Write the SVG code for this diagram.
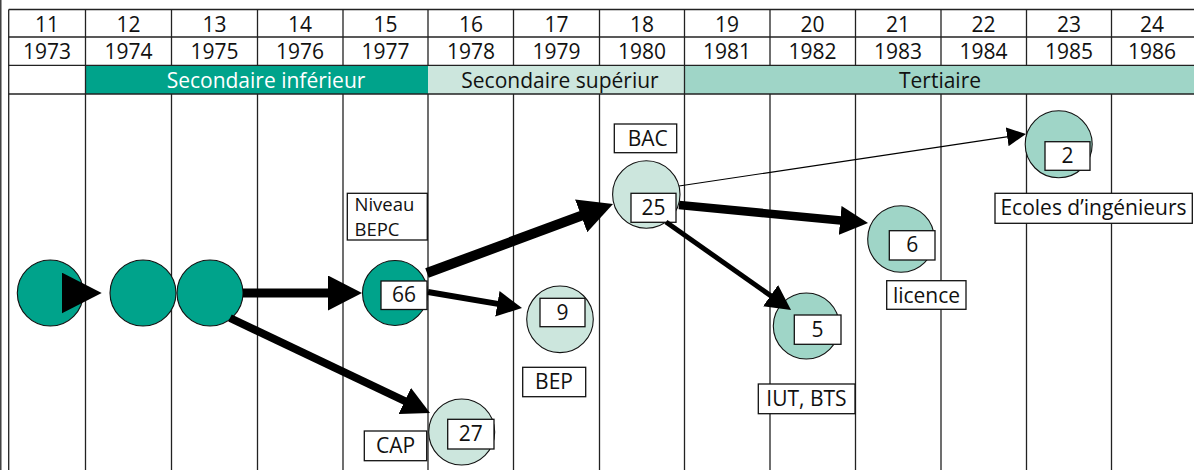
<svg xmlns="http://www.w3.org/2000/svg" width="1194" height="470" viewBox="0 0 1194 470">
<style>
text{font-family:"Open Sans","Noto Sans","Liberation Sans",sans-serif;font-size:21px;fill:#111;}
.c{text-anchor:middle;}
.grid{stroke:#222;stroke-width:1.3;fill:none;}
.box{fill:#fff;stroke:#111;stroke-width:1.3;}
.dk{fill:#00A38B;stroke:#111;stroke-width:1.1;}
.lt{fill:#CCE6DD;stroke:#111;stroke-width:1.1;}
.md{fill:#9FD5C7;stroke:#111;stroke-width:1.1;}
.arr{stroke:#000;fill:none;}
</style>
<defs>
<marker id="mHuge" markerUnits="userSpaceOnUse" markerWidth="40" markerHeight="41" refX="20" refY="20.5" orient="auto"><path d="M0,0 L40,20.5 L0,41 z" fill="#000"/></marker>
<marker id="mBig" markerUnits="userSpaceOnUse" markerWidth="34" markerHeight="35" refX="17" refY="17.5" orient="auto"><path d="M0,0 L34,17.5 L0,35 z" fill="#000"/></marker>
<marker id="mMed" markerUnits="userSpaceOnUse" markerWidth="28" markerHeight="29" refX="14" refY="14.5" orient="auto"><path d="M0,0 L28,14.5 L0,29 z" fill="#000"/></marker>
<marker id="mSmall" markerUnits="userSpaceOnUse" markerWidth="25" markerHeight="26" refX="12.5" refY="13" orient="auto"><path d="M0,0 L25,13 L0,26 z" fill="#000"/></marker>
<marker id="mThin" markerUnits="userSpaceOnUse" markerWidth="19" markerHeight="19" refX="9.5" refY="9.5" orient="auto"><path d="M0,0 L19,9.5 L0,19 z" fill="#000"/></marker>
</defs>
<rect x="0" y="0" width="1194" height="470" fill="#fff"/>
<g id="grid">
<rect x="85.5" y="65.3" width="342.5" height="28.7" fill="#00A38B"/>
<rect x="428" y="65.3" width="256.5" height="28.7" fill="#CCE6DD"/>
<rect x="684.5" y="65.3" width="509.5" height="28.7" fill="#9FD5C7"/>
<line class="grid" x1="0.8" y1="0" x2="0.8" y2="470" stroke-width="1.6"/>
<line class="grid" x1="8.7" y1="9.5" x2="8.7" y2="470"/>
<line class="grid" x1="8.7" y1="9.5" x2="1194" y2="9.5"/>
<line class="grid" x1="8.7" y1="37" x2="1194" y2="37"/>
<line class="grid" x1="8.7" y1="65.3" x2="1194" y2="65.3"/>
<line class="grid" x1="8.7" y1="94" x2="1194" y2="94"/>
<line class="grid" x1="684.5" y1="65.3" x2="684.5" y2="94" stroke-width="0.8"/>
<path class="grid" d="M85.5,9.5V470 M171.5,9.5V65.3 M171.5,94V470 M257.5,9.5V65.3 M257.5,94V470 M343,9.5V65.3 M343,94V470 M428,9.5V65.3 M428,94V470 M513.5,9.5V65.3 M513.5,94V470 M599.5,9.5V65.3 M599.5,94V470 M684.5,9.5V65.3 M684.5,94V470 M770,9.5V65.3 M770,94V470 M855.5,9.5V65.3 M855.5,94V470 M941,9.5V65.3 M941,94V470 M1026.5,9.5V65.3 M1026.5,94V470 M1111.5,9.5V65.3 M1111.5,94V470"/>
</g>
<g id="header">
<text class="c" x="47" y="31.5">11</text>
<text class="c" x="128.5" y="31.5">12</text>
<text class="c" x="214.5" y="31.5">13</text>
<text class="c" x="300" y="31.5">14</text>
<text class="c" x="385.5" y="31.5">15</text>
<text class="c" x="471" y="31.5">16</text>
<text class="c" x="556.5" y="31.5">17</text>
<text class="c" x="642" y="31.5">18</text>
<text class="c" x="727" y="31.5">19</text>
<text class="c" x="812.5" y="31.5">20</text>
<text class="c" x="898" y="31.5">21</text>
<text class="c" x="983.5" y="31.5">22</text>
<text class="c" x="1069" y="31.5">23</text>
<text class="c" x="1152" y="31.5">24</text>
<text class="c" x="47" y="58.5">1973</text>
<text class="c" x="128.5" y="58.5">1974</text>
<text class="c" x="214.5" y="58.5">1975</text>
<text class="c" x="300" y="58.5">1976</text>
<text class="c" x="385.5" y="58.5">1977</text>
<text class="c" x="471" y="58.5">1978</text>
<text class="c" x="556.5" y="58.5">1979</text>
<text class="c" x="642" y="58.5">1980</text>
<text class="c" x="727" y="58.5">1981</text>
<text class="c" x="812.5" y="58.5">1982</text>
<text class="c" x="898" y="58.5">1983</text>
<text class="c" x="983.5" y="58.5">1984</text>
<text class="c" x="1069" y="58.5">1985</text>
<text class="c" x="1152" y="58.5">1986</text>
<text class="c" x="266" y="88" style="fill:#fff">Secondaire inférieur</text>
<text class="c" x="560" y="88">Secondaire supériur</text>
<text class="c" x="940" y="88">Tertiaire</text>
</g>
<g id="n1"><circle class="dk" cx="50.3" cy="293" r="33"/></g>
<g id="n2"><circle class="dk" cx="143" cy="293" r="33"/></g>
<g id="n3"><circle class="dk" cx="210" cy="293" r="33"/></g>
<g id="n66">
<circle class="dk" cx="395" cy="293" r="32.5"/>
<rect class="box" x="381" y="281" width="46" height="28.5"/>
<text class="c" x="404" y="301.5">66</text>
<rect class="box" x="347.3" y="193.3" width="80" height="46.7"/>
<text x="354.5" y="210.5" style="font-size:18.5px">Niveau</text>
<text x="354.5" y="236" style="font-size:18.5px">BEPC</text>
</g>
<g id="n27">
<circle class="lt" cx="461.7" cy="432" r="33"/>
<rect class="box" x="447.7" y="419.3" width="46.3" height="29.7"/>
<text class="c" x="470.8" y="441">27</text>
<rect class="box" x="364.3" y="431" width="62.4" height="29.7"/>
<text class="c" x="395.5" y="453.3">CAP</text>
</g>
<g id="n9">
<circle class="lt" cx="560" cy="319.3" r="33.3"/>
<rect class="box" x="540" y="298.3" width="45" height="28.4"/>
<text class="c" x="562.5" y="319.5">9</text>
<rect class="box" x="522.7" y="367.3" width="63" height="29.4"/>
<text class="c" x="554" y="389.3">BEP</text>
</g>
<g id="n25">
<circle class="lt" cx="646.3" cy="194.5" r="33.7"/>
<rect class="box" x="631" y="193.3" width="45" height="29"/>
<text class="c" x="653.5" y="214.5">25</text>
<rect class="box" x="614.3" y="124" width="62.4" height="28.7"/>
<text class="c" x="647.8" y="146">BAC</text>
</g>
<g id="n5">
<circle class="md" cx="806.3" cy="326" r="33"/>
<rect class="box" x="794.3" y="315" width="46.7" height="29.3"/>
<text class="c" x="817.6" y="336.5">5</text>
<rect class="box" x="758.3" y="384" width="96.7" height="29.7"/>
<text class="c" x="806.5" y="405.7">IUT, BTS</text>
</g>
<g id="n6">
<circle class="md" cx="901" cy="239" r="33.3"/>
<rect class="box" x="889.3" y="230.7" width="45.7" height="29.3"/>
<text class="c" x="912.2" y="252">6</text>
<rect class="box" x="886.7" y="280.7" width="79.3" height="28.6"/>
<text class="c" x="926.5" y="302.7">licence</text>
</g>
<g id="n2e">
<circle class="md" cx="1058.7" cy="144.3" r="33.5"/>
<rect class="box" x="1045" y="141.7" width="45" height="28.6"/>
<text class="c" x="1067.5" y="163">2</text>
<rect class="box" x="995" y="193.3" width="197.3" height="30"/>
<text class="c" x="1093.5" y="215">Ecoles d’ingénieurs</text>
</g>
<g id="connectors">
<line class="arr" x1="62" y1="293" x2="81.7" y2="293" stroke-width="9" marker-end="url(#mHuge)"/>
<line class="arr" x1="243" y1="293" x2="345" y2="293" stroke-width="9" marker-end="url(#mBig)"/>
<line class="arr" x1="427" y1="273" x2="597.1" y2="209.9" stroke-width="10" marker-end="url(#mBig)"/>
<line class="arr" x1="428" y1="292" x2="509.7" y2="305.9" stroke-width="6" marker-end="url(#mSmall)"/>
<line class="arr" x1="230" y1="318" x2="417.4" y2="407" stroke-width="8" marker-end="url(#mMed)"/>
<line class="arr" x1="679" y1="205" x2="854.1" y2="221.7" stroke-width="8.5" marker-end="url(#mMed)"/>
<line class="arr" x1="666" y1="222" x2="780.8" y2="302.8" stroke-width="5" marker-end="url(#mSmall)"/>
<line class="arr" x1="679" y1="186" x2="1016.6" y2="135.4" stroke-width="1.2" marker-end="url(#mThin)"/>
</g>
</svg>
